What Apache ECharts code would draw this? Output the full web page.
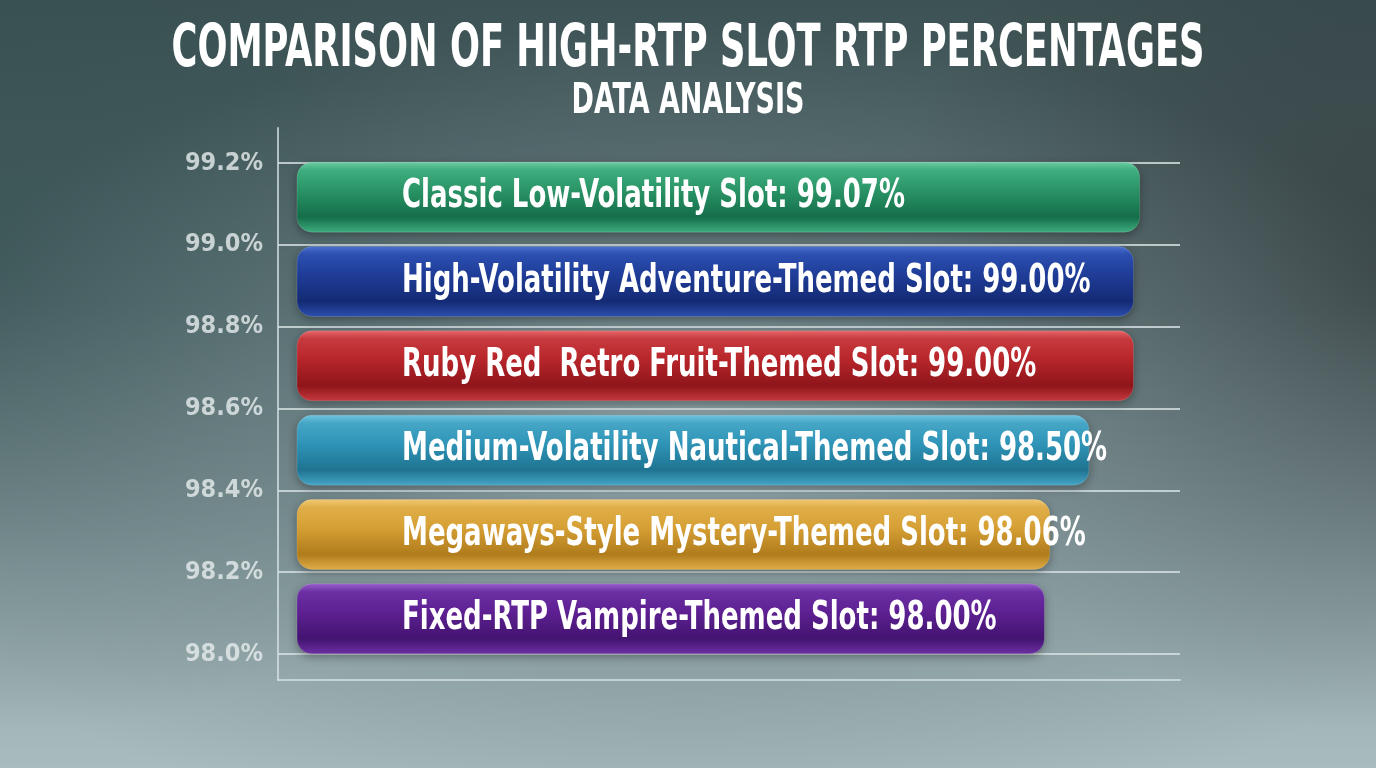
<!DOCTYPE html>
<html>
<head>
<meta charset="utf-8">
<script src="https://cdn.jsdelivr.net/npm/echarts@6/dist/echarts.min.js"></script>
<style>
html,body{margin:0;padding:0;width:1376px;height:768px;overflow:hidden;}
body{
  background:
    radial-gradient(ellipse 60% 55% at 50% 58%, rgba(150,170,174,0.8) 0%, rgba(120,140,144,0.45) 45%, rgba(60,75,78,0) 100%),
    radial-gradient(ellipse 45% 60% at 0% 35%, rgba(45,75,75,0.55) 0%, rgba(45,75,75,0) 100%),
    radial-gradient(ellipse 35% 60% at 100% 35%, rgba(45,50,52,0.6) 0%, rgba(45,50,52,0) 100%),
    linear-gradient(180deg, #3d5254 0%, #556a6d 40%, #8ea2a5 75%, #a9bcbe 100%);
}
#chart{width:1376px;height:768px;}
</style>
</head>
<body>
<div id="chart"></div>
<script>
const categories = [
  'Classic Low-Volatility Slot',
  'High-Volatility Adventure-Themed Slot',
  'Ruby Red  Retro Fruit-Themed Slot',
  'Medium-Volatility Nautical-Themed Slot',
  'Megaways-Style Mystery-Themed Slot',
  'Fixed-RTP Vampire-Themed Slot'
];
const rtpValues = [99.07, 99.00, 99.00, 98.50, 98.06, 98.00];
const yTickMin = 98.0;
const yTickMax = 99.2;
const yTickStep = 0.2;
const titleText = 'COMPARISON OF HIGH-RTP SLOT RTP PERCENTAGES';
const subtitleText = 'DATA ANALYSIS';

const barColors = [
  ['#6fcfa4', '#2a9466', '#146e49', '#3fae80'],
  ['#4f74d0', '#1f3d98', '#142a74', '#2c4fb0'],
  ['#e86a6c', '#b8262b', '#8e151a', '#c73a3e'],
  ['#72c6e0', '#2f95b8', '#1f7391', '#46a6c6'],
  ['#f4cc74', '#d6a035', '#b07c1c', '#e0ae48'],
  ['#9a62cc', '#5e2092', '#431470', '#6c30a4']
];

const FONT_NAME = 'DejaVu Sans Condensed';
const FONT = '"DejaVu Sans Condensed", "DejaVu Sans", sans-serif';
const X_MIN = 89.6, X_MAX = 100;

function measure(text, size) {
  const ctx = document.createElement('canvas').getContext('2d');
  ctx.font = 'bold ' + size + 'px "' + FONT_NAME + '"';
  return ctx.measureText(text).width;
}

const titleSize = 58, subSize = 42, labelSize = 39;
const titleScale = 1033 / measure(titleText, titleSize);
const subScale = 233 / measure(subtitleText, subSize);
const firstLabel = categories[0] + ': ' + rtpValues[0].toFixed(2) + '%';
const labelScale = 503 / measure(firstLabel, labelSize);

function barGradient(c) {
  return new echarts.graphic.LinearGradient(0, 0, 0, 1, [
    { offset: 0, color: c[0] },
    { offset: 0.12, color: c[3] },
    { offset: 0.4, color: c[1] },
    { offset: 0.78, color: c[2] },
    { offset: 1, color: c[3] }
  ]);
}

const chart = echarts.init(document.getElementById('chart'), null, { renderer: 'canvas' });

const shadowText = {
  fill: '#ffffff',
  fontFamily: FONT,
  fontWeight: 'bold',
  shadowColor: 'rgba(0,0,0,0.45)',
  shadowBlur: 6,
  shadowOffsetY: 2
};

const option = {
  backgroundColor: 'transparent',
  animation: false,
  graphic: [
    {
      type: 'text', x: 688, y: 22, scaleX: titleScale, z: 10,
      style: Object.assign({ text: titleText, fontSize: titleSize, align: 'center', verticalAlign: 'top' }, shadowText)
    },
    {
      type: 'text', x: 688, y: 81, scaleX: subScale, z: 10,
      style: Object.assign({ text: subtitleText, fontSize: subSize, align: 'center', verticalAlign: 'top' }, shadowText)
    }
  ],
  grid: [
    { left: 278, right: 196, top: 163, bottom: 114 },
    { left: 278, right: 196, top: 128, bottom: 88 },
    { left: 297, right: 153, top: 155, bottom: 107 }
  ],
  xAxis: [
    { gridIndex: 0, type: 'value', min: 0, max: 1, show: false },
    {
      gridIndex: 1, type: 'value', min: 0, max: 1,
      axisLine: { show: true, lineStyle: { color: 'rgba(215,226,228,0.75)', width: 2 } },
      axisTick: { show: false }, axisLabel: { show: false }, splitLine: { show: false }
    },
    { gridIndex: 2, type: 'value', min: X_MIN, max: X_MAX, show: false }
  ],
  yAxis: [
    {
      gridIndex: 0, type: 'value', min: yTickMin, max: yTickMax, interval: yTickStep,
      axisLine: { show: false }, axisTick: { show: false },
      axisLabel: {
        formatter: v => v.toFixed(1) + '%',
        fontFamily: FONT, fontWeight: 'bold', fontSize: 25,
        color: 'rgba(228,234,236,0.82)', margin: 15
      },
      splitLine: { show: true, lineStyle: { color: 'rgba(215,226,228,0.8)', width: 2 } }
    },
    {
      gridIndex: 1, type: 'value', min: 0, max: 1,
      axisLine: { show: true, lineStyle: { color: 'rgba(215,226,228,0.75)', width: 2 } },
      axisTick: { show: false }, axisLabel: { show: false }, splitLine: { show: false }
    },
    {
      gridIndex: 2, type: 'category', data: categories, inverse: true, show: false
    }
  ],
  series: [
    {
      type: 'bar',
      xAxisIndex: 2,
      yAxisIndex: 2,
      barWidth: 71,
      data: rtpValues.map((v, i) => ({
        value: v,
        itemStyle: {
          color: barGradient(barColors[i]),
          borderRadius: 15,
          borderColor: 'rgba(255,255,255,0.15)',
          borderWidth: 1,
          shadowColor: 'rgba(0,0,0,0.35)',
          shadowBlur: 10,
          shadowOffsetY: 3
        }
      }))
    },
    {
      type: 'custom',
      xAxisIndex: 2,
      yAxisIndex: 2,
      z: 5,
      data: rtpValues.map((v, i) => [v, i]),
      encode: { x: 0, y: 1 },
      renderItem: function (params, api) {
        const i = api.value(1);
        const p = api.coord([X_MIN, i]);
        const text = categories[i] + ': ' + rtpValues[i].toFixed(2) + '%';
        return {
          type: 'text',
          x: p[0] + 105,
          y: p[1],
          scaleX: labelScale,
          style: Object.assign({
            text: text, fontSize: labelSize, align: 'left', verticalAlign: 'middle'
          }, shadowText, { shadowColor: 'rgba(0,0,0,0.55)', shadowBlur: 5 })
        };
      }
    }
  ]
};

chart.setOption(option);
</script>
</body>
</html>
